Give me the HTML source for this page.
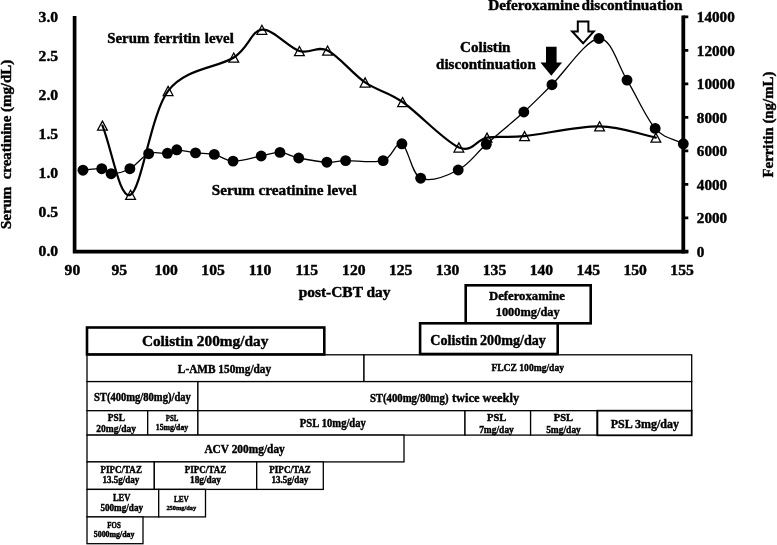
<!DOCTYPE html>
<html lang="en"><head><meta charset="utf-8"><title>Clinical course</title>
<style>
html,body{margin:0;padding:0;background:#fff;}
body{width:777px;height:545px;overflow:hidden;}
svg{display:block;}
svg text{font-family:"Liberation Serif","Times New Roman",Times,serif;font-weight:bold;fill:#000;stroke:#000;stroke-width:0.42px;}
</style></head><body>
<svg width="777" height="545" viewBox="0 0 777 545">
<rect x="0" y="0" width="777" height="545" fill="#fff"/>
<path d="M74.6,16.1 V251.7 H688.3" fill="none" stroke="#000" stroke-width="3.7" stroke-linejoin="miter"/>
<path d="M683.3,15.5 V253.4" fill="none" stroke="#000" stroke-width="3.8"/>
<path d="M683.3,16.90 H688.3 M683.3,50.40 H688.3 M683.3,83.90 H688.3 M683.3,117.40 H688.3 M683.3,150.90 H688.3 M683.3,184.40 H688.3 M683.3,217.90 H688.3 M683.3,251.40 H688.3" fill="none" stroke="#000" stroke-width="2.7"/>
<path d="M102.44,121.10 L107.34,130.20 H97.54 Z" fill="#fff" stroke="#000" stroke-width="1.25" stroke-linejoin="miter"/>
<path d="M130.58,190.30 L135.48,199.40 H125.68 Z" fill="#fff" stroke="#000" stroke-width="1.25" stroke-linejoin="miter"/>
<path d="M168.10,86.40 L173.00,95.50 H163.20 Z" fill="#fff" stroke="#000" stroke-width="1.25" stroke-linejoin="miter"/>
<path d="M233.76,53.00 L238.66,62.10 H228.86 Z" fill="#fff" stroke="#000" stroke-width="1.25" stroke-linejoin="miter"/>
<path d="M261.90,25.20 L266.80,34.30 H257.00 Z" fill="#fff" stroke="#000" stroke-width="1.25" stroke-linejoin="miter"/>
<path d="M299.42,46.50 L304.32,55.60 H294.52 Z" fill="#fff" stroke="#000" stroke-width="1.25" stroke-linejoin="miter"/>
<path d="M327.56,46.00 L332.46,55.10 H322.66 Z" fill="#fff" stroke="#000" stroke-width="1.25" stroke-linejoin="miter"/>
<path d="M365.08,77.90 L369.98,87.00 H360.18 Z" fill="#fff" stroke="#000" stroke-width="1.25" stroke-linejoin="miter"/>
<path d="M402.60,97.50 L407.50,106.60 H397.70 Z" fill="#fff" stroke="#000" stroke-width="1.25" stroke-linejoin="miter"/>
<path d="M458.88,142.90 L463.78,152.00 H453.98 Z" fill="#fff" stroke="#000" stroke-width="1.25" stroke-linejoin="miter"/>
<path d="M487.02,133.10 L491.92,142.20 H482.12 Z" fill="#fff" stroke="#000" stroke-width="1.25" stroke-linejoin="miter"/>
<path d="M524.54,131.60 L529.44,140.70 H519.64 Z" fill="#fff" stroke="#000" stroke-width="1.25" stroke-linejoin="miter"/>
<path d="M599.58,121.80 L604.48,130.90 H594.68 Z" fill="#fff" stroke="#000" stroke-width="1.25" stroke-linejoin="miter"/>
<path d="M655.86,133.10 L660.76,142.20 H650.96 Z" fill="#fff" stroke="#000" stroke-width="1.25" stroke-linejoin="miter"/>
<path d="M102.44,125.60 C111.82,148.67 119.64,200.58 130.58,194.80 C141.52,189.02 150.90,113.78 168.10,90.90 C185.30,68.02 218.13,67.70 233.76,57.50 C249.39,47.30 250.96,30.78 261.90,29.70 C272.84,28.62 288.48,47.53 299.42,51.00 C310.36,54.47 316.62,45.27 327.56,50.50 C338.50,55.73 352.57,73.82 365.08,82.40 C377.59,90.98 386.97,91.17 402.60,102.00 C418.23,112.83 444.81,141.47 458.88,147.40 C472.61,153.19 476.08,139.48 487.02,137.60 C497.96,135.72 505.86,137.98 524.54,136.10 C543.30,134.22 577.69,126.05 599.58,126.30 C621.47,126.55 637.10,133.83 655.86,137.60" fill="none" stroke="#000" stroke-width="2.2" stroke-linecap="round"/>
<path d="M82.98,170.20 C89.23,169.70 97.05,168.12 101.74,168.70 C106.43,169.28 106.43,173.70 111.12,173.70 C115.81,173.70 123.63,172.03 129.88,168.70 C136.13,165.37 142.39,156.27 148.64,153.70 C154.89,151.13 162.71,153.95 167.40,153.30 C172.09,152.65 172.09,149.87 176.78,149.80 C181.47,149.73 189.29,152.13 195.54,152.90 C201.79,153.67 208.05,153.03 214.30,154.40 C220.55,155.77 225.24,160.83 233.06,161.10 C240.88,161.37 253.38,157.45 261.20,156.00 C269.02,154.55 273.71,152.07 279.96,152.40 C286.21,152.73 290.90,156.37 298.72,158.00 C306.54,159.63 319.04,161.77 326.86,162.20 C334.68,162.63 336.24,160.87 345.62,160.60 C355.00,160.33 373.76,163.40 383.14,160.60 C392.52,157.80 395.65,140.87 401.90,143.80 C408.15,146.73 411.28,173.83 420.66,178.20 C430.04,182.57 447.24,175.65 458.18,170.00 C469.12,164.35 475.38,153.97 486.32,144.30 C497.26,134.63 512.90,121.93 523.84,112.00 C534.78,102.07 539.47,96.95 551.98,84.70 C564.49,72.45 586.37,39.27 598.88,38.50 C611.39,37.73 617.64,65.12 627.02,80.10 C636.40,95.08 645.78,117.78 655.16,128.40 C664.54,139.02 673.92,138.67 683.30,143.80" fill="none" stroke="#000" stroke-width="1.3"/>
<circle cx="82.98" cy="170.20" r="5.45" fill="#000"/>
<circle cx="101.74" cy="168.70" r="5.45" fill="#000"/>
<circle cx="111.12" cy="173.70" r="5.45" fill="#000"/>
<circle cx="129.88" cy="168.70" r="5.45" fill="#000"/>
<circle cx="148.64" cy="153.70" r="5.45" fill="#000"/>
<circle cx="167.40" cy="153.30" r="5.45" fill="#000"/>
<circle cx="176.78" cy="149.80" r="5.45" fill="#000"/>
<circle cx="195.54" cy="152.90" r="5.45" fill="#000"/>
<circle cx="214.30" cy="154.40" r="5.45" fill="#000"/>
<circle cx="233.06" cy="161.10" r="5.45" fill="#000"/>
<circle cx="261.20" cy="156.00" r="5.45" fill="#000"/>
<circle cx="279.96" cy="152.40" r="5.45" fill="#000"/>
<circle cx="298.72" cy="158.00" r="5.45" fill="#000"/>
<circle cx="326.86" cy="162.20" r="5.45" fill="#000"/>
<circle cx="345.62" cy="160.60" r="5.45" fill="#000"/>
<circle cx="383.14" cy="160.60" r="5.45" fill="#000"/>
<circle cx="401.90" cy="143.80" r="5.45" fill="#000"/>
<circle cx="420.66" cy="178.20" r="5.45" fill="#000"/>
<circle cx="458.18" cy="170.00" r="5.45" fill="#000"/>
<circle cx="486.32" cy="144.30" r="5.45" fill="#000"/>
<circle cx="523.84" cy="112.00" r="5.45" fill="#000"/>
<circle cx="551.98" cy="84.70" r="5.45" fill="#000"/>
<circle cx="598.88" cy="38.50" r="5.45" fill="#000"/>
<circle cx="627.02" cy="80.10" r="5.45" fill="#000"/>
<circle cx="655.16" cy="128.40" r="5.45" fill="#000"/>
<circle cx="683.30" cy="143.80" r="5.45" fill="#000"/>
<text x="38.60" y="21.50" font-size="14.6" textLength="19.53" lengthAdjust="spacingAndGlyphs" xml:space="preserve">3.0</text>
<text x="38.60" y="60.50" font-size="14.6" textLength="19.53" lengthAdjust="spacingAndGlyphs" xml:space="preserve">2.5</text>
<text x="38.60" y="99.50" font-size="14.6" textLength="19.53" lengthAdjust="spacingAndGlyphs" xml:space="preserve">2.0</text>
<text x="38.60" y="138.50" font-size="14.6" textLength="19.53" lengthAdjust="spacingAndGlyphs" xml:space="preserve">1.5</text>
<text x="38.60" y="177.50" font-size="14.6" textLength="19.53" lengthAdjust="spacingAndGlyphs" xml:space="preserve">1.0</text>
<text x="38.60" y="216.50" font-size="14.6" textLength="19.53" lengthAdjust="spacingAndGlyphs" xml:space="preserve">0.5</text>
<text x="38.60" y="255.50" font-size="14.6" textLength="19.53" lengthAdjust="spacingAndGlyphs" xml:space="preserve">0.0</text>
<text x="64.59" y="274.60" font-size="14.6" textLength="15.62" lengthAdjust="spacingAndGlyphs" xml:space="preserve">90</text>
<text x="111.49" y="274.60" font-size="14.6" textLength="15.62" lengthAdjust="spacingAndGlyphs" xml:space="preserve">95</text>
<text x="154.48" y="274.60" font-size="14.6" textLength="23.43" lengthAdjust="spacingAndGlyphs" xml:space="preserve">100</text>
<text x="201.38" y="274.60" font-size="14.6" textLength="23.43" lengthAdjust="spacingAndGlyphs" xml:space="preserve">105</text>
<text x="248.71" y="274.60" font-size="14.6" textLength="22.57" lengthAdjust="spacingAndGlyphs" xml:space="preserve">110</text>
<text x="295.61" y="274.60" font-size="14.6" textLength="22.57" lengthAdjust="spacingAndGlyphs" xml:space="preserve">115</text>
<text x="342.08" y="274.60" font-size="14.6" textLength="23.43" lengthAdjust="spacingAndGlyphs" xml:space="preserve">120</text>
<text x="388.98" y="274.60" font-size="14.6" textLength="23.43" lengthAdjust="spacingAndGlyphs" xml:space="preserve">125</text>
<text x="435.88" y="274.60" font-size="14.6" textLength="23.43" lengthAdjust="spacingAndGlyphs" xml:space="preserve">130</text>
<text x="482.78" y="274.60" font-size="14.6" textLength="23.43" lengthAdjust="spacingAndGlyphs" xml:space="preserve">135</text>
<text x="529.68" y="274.60" font-size="14.6" textLength="23.43" lengthAdjust="spacingAndGlyphs" xml:space="preserve">140</text>
<text x="576.58" y="274.60" font-size="14.6" textLength="23.43" lengthAdjust="spacingAndGlyphs" xml:space="preserve">145</text>
<text x="623.48" y="274.60" font-size="14.6" textLength="23.43" lengthAdjust="spacingAndGlyphs" xml:space="preserve">150</text>
<text x="670.38" y="274.60" font-size="14.6" textLength="23.43" lengthAdjust="spacingAndGlyphs" xml:space="preserve">155</text>
<text x="696.80" y="22.00" font-size="14.6" textLength="37.96" lengthAdjust="spacingAndGlyphs" xml:space="preserve">14000</text>
<text x="696.80" y="55.50" font-size="14.6" textLength="37.96" lengthAdjust="spacingAndGlyphs" xml:space="preserve">12000</text>
<text x="696.80" y="89.00" font-size="14.6" textLength="37.96" lengthAdjust="spacingAndGlyphs" xml:space="preserve">10000</text>
<text x="696.80" y="122.50" font-size="14.6" textLength="30.37" lengthAdjust="spacingAndGlyphs" xml:space="preserve">8000</text>
<text x="696.80" y="156.00" font-size="14.6" textLength="30.37" lengthAdjust="spacingAndGlyphs" xml:space="preserve">6000</text>
<text x="696.80" y="189.50" font-size="14.6" textLength="30.37" lengthAdjust="spacingAndGlyphs" xml:space="preserve">4000</text>
<text x="696.80" y="223.00" font-size="14.6" textLength="30.37" lengthAdjust="spacingAndGlyphs" xml:space="preserve">2000</text>
<text x="696.80" y="256.50" font-size="14.6" textLength="7.59" lengthAdjust="spacingAndGlyphs" xml:space="preserve">0</text>
<text x="298.70" y="297.40" font-size="14.6" textLength="91.81" lengthAdjust="spacingAndGlyphs" xml:space="preserve">post-CBT day</text>
<text x="0.00" y="0.00" font-size="14.6" textLength="169.22" lengthAdjust="spacingAndGlyphs" transform="translate(10.5 229.0) rotate(-90)" xml:space="preserve">Serum  creatinine (mg/dL)</text>
<text x="0.00" y="0.00" font-size="14.6" textLength="105.83" lengthAdjust="spacingAndGlyphs" transform="translate(772.5 177.5) rotate(-90)" xml:space="preserve">Ferritin (ng/mL)</text>
<text x="107.20" y="43.40" font-size="15" textLength="126.61" lengthAdjust="spacingAndGlyphs" word-spacing="0.90" xml:space="preserve">Serum ferritin level</text>
<text x="211.70" y="195.10" font-size="15" textLength="145.09" lengthAdjust="spacingAndGlyphs" xml:space="preserve">Serum creatinine level</text>
<text x="488.20" y="10.30" font-size="15.3" textLength="194.27" lengthAdjust="spacingAndGlyphs" word-spacing="-1.84" xml:space="preserve">Deferoxamine discontinuation</text>
<text x="460.05" y="52.00" font-size="15" textLength="50.48" lengthAdjust="spacingAndGlyphs" xml:space="preserve">Colistin</text>
<text x="436.00" y="68.90" font-size="15" textLength="99.78" lengthAdjust="spacingAndGlyphs" xml:space="preserve">discontinuation</text>
<path d="M546,46.8 H556.6 V62.5 H562.1 L551.3,75.8 L540.4,62.5 H546 Z" fill="#000"/>
<path d="M577.8,21.4 H588.4 V31.4 H593.8 L583.1,43.3 L572.2,31.4 H577.8 Z" fill="#fff" stroke="#000" stroke-width="2.0" stroke-linejoin="miter"/>
<rect x="87.00" y="354.80" width="277.00" height="26.80" fill="#fff" stroke="#000" stroke-width="1.3"/>
<rect x="364.00" y="354.80" width="327.70" height="26.80" fill="#fff" stroke="#000" stroke-width="1.3"/>
<rect x="87.00" y="381.60" width="110.90" height="29.10" fill="#fff" stroke="#000" stroke-width="1.3"/>
<rect x="197.90" y="381.60" width="493.80" height="29.10" fill="#fff" stroke="#000" stroke-width="1.3"/>
<rect x="87.00" y="410.70" width="60.70" height="24.40" fill="#fff" stroke="#000" stroke-width="1.3"/>
<rect x="147.70" y="410.70" width="50.20" height="24.40" fill="#fff" stroke="#000" stroke-width="1.3"/>
<rect x="197.90" y="410.70" width="267.10" height="24.40" fill="#fff" stroke="#000" stroke-width="1.3"/>
<rect x="465.00" y="410.70" width="65.60" height="24.40" fill="#fff" stroke="#000" stroke-width="1.3"/>
<rect x="530.60" y="410.70" width="66.60" height="24.40" fill="#fff" stroke="#000" stroke-width="1.3"/>
<rect x="87.00" y="435.10" width="317.00" height="26.80" fill="#fff" stroke="#000" stroke-width="1.3"/>
<rect x="87.00" y="461.90" width="67.30" height="27.50" fill="#fff" stroke="#000" stroke-width="1.3"/>
<rect x="154.30" y="461.90" width="102.40" height="27.50" fill="#fff" stroke="#000" stroke-width="1.3"/>
<rect x="256.70" y="461.90" width="66.60" height="27.50" fill="#fff" stroke="#000" stroke-width="1.3"/>
<rect x="87.00" y="489.40" width="71.70" height="27.50" fill="#fff" stroke="#000" stroke-width="1.3"/>
<rect x="158.70" y="489.40" width="46.80" height="27.50" fill="#fff" stroke="#000" stroke-width="1.3"/>
<rect x="87.00" y="516.90" width="56.00" height="26.80" fill="#fff" stroke="#000" stroke-width="1.3"/>
<rect x="597.40" y="410.70" width="94.30" height="24.60" fill="#fff" stroke="#000" stroke-width="1.8"/>
<rect x="87.00" y="327.50" width="237.30" height="26.90" fill="#fff" stroke="#000" stroke-width="2.6"/>
<rect x="465.70" y="285.30" width="125.00" height="38.00" fill="#fff" stroke="#000" stroke-width="2.6"/>
<rect x="420.10" y="323.30" width="137.60" height="30.70" fill="#fff" stroke="#000" stroke-width="2.6"/>
<text x="141.90" y="346.31" font-size="15.5" textLength="126.42" lengthAdjust="spacingAndGlyphs" xml:space="preserve">Colistin 200mg/day</text>
<text x="177.85" y="372.82" font-size="12.5" textLength="93.30" lengthAdjust="spacingAndGlyphs" xml:space="preserve">L-AMB 150mg/day</text>
<text x="491.40" y="371.36" font-size="10.5" textLength="72.59" lengthAdjust="spacingAndGlyphs" xml:space="preserve">FLCZ 100mg/day</text>
<text x="94.00" y="400.60" font-size="11.5" textLength="96.82" lengthAdjust="spacingAndGlyphs" xml:space="preserve">ST(400mg/80mg)/day</text>
<text x="369.90" y="401.62" font-size="11.7" textLength="78.58" lengthAdjust="spacingAndGlyphs" xml:space="preserve">ST(400mg/80mg)</text>
<text x="451.90" y="401.62" font-size="13" textLength="67.29" lengthAdjust="spacingAndGlyphs" xml:space="preserve">twice weekly</text>
<text x="107.75" y="420.83" font-size="11" textLength="17.29" lengthAdjust="spacingAndGlyphs" xml:space="preserve">PSL</text>
<text x="96.30" y="431.80" font-size="11" textLength="39.82" lengthAdjust="spacingAndGlyphs" xml:space="preserve">20mg/day</text>
<text x="165.70" y="421.11" font-size="8.5" textLength="12.59" lengthAdjust="spacingAndGlyphs" xml:space="preserve">PSL</text>
<text x="155.80" y="430.00" font-size="8.5" textLength="32.42" lengthAdjust="spacingAndGlyphs" xml:space="preserve">15mg/day</text>
<text x="299.80" y="427.30" font-size="11.5" textLength="66.01" lengthAdjust="spacingAndGlyphs" word-spacing="0.58" xml:space="preserve">PSL 10mg/day</text>
<text x="487.07" y="420.76" font-size="10.5" xml:space="preserve">PSL</text>
<text x="479.15" y="432.50" font-size="10.5" textLength="34.72" lengthAdjust="spacingAndGlyphs" xml:space="preserve">7mg/day</text>
<text x="553.77" y="420.76" font-size="10.5" xml:space="preserve">PSL</text>
<text x="546.15" y="432.50" font-size="10.5" textLength="34.72" lengthAdjust="spacingAndGlyphs" xml:space="preserve">5mg/day</text>
<text x="610.70" y="427.89" font-size="13" textLength="68.21" lengthAdjust="spacingAndGlyphs" xml:space="preserve">PSL 3mg/day</text>
<text x="204.40" y="452.62" font-size="12.5" textLength="80.41" lengthAdjust="spacingAndGlyphs" xml:space="preserve">ACV 200mg/day</text>
<text x="100.45" y="473.00" font-size="10" textLength="41.48" lengthAdjust="spacingAndGlyphs" xml:space="preserve">PIPC/TAZ</text>
<text x="102.50" y="483.00" font-size="10" textLength="36.79" lengthAdjust="spacingAndGlyphs" xml:space="preserve">13.5g/day</text>
<text x="184.75" y="473.00" font-size="10" textLength="41.48" lengthAdjust="spacingAndGlyphs" xml:space="preserve">PIPC/TAZ</text>
<text x="190.00" y="483.00" font-size="10" textLength="30.99" lengthAdjust="spacingAndGlyphs" xml:space="preserve">18g/day</text>
<text x="269.35" y="473.00" font-size="10" textLength="41.48" lengthAdjust="spacingAndGlyphs" xml:space="preserve">PIPC/TAZ</text>
<text x="271.40" y="483.00" font-size="10" textLength="36.79" lengthAdjust="spacingAndGlyphs" xml:space="preserve">13.5g/day</text>
<text x="112.95" y="500.90" font-size="10" textLength="17.51" lengthAdjust="spacingAndGlyphs" xml:space="preserve">LEV</text>
<text x="100.40" y="511.00" font-size="10" textLength="42.62" lengthAdjust="spacingAndGlyphs" xml:space="preserve">500mg/day</text>
<text x="173.90" y="501.81" font-size="8.5" textLength="14.81" lengthAdjust="spacingAndGlyphs" xml:space="preserve">LEV</text>
<text x="166.40" y="510.00" font-size="7" textLength="29.81" lengthAdjust="spacingAndGlyphs" xml:space="preserve">250mg/day</text>
<text x="107.25" y="527.64" font-size="8" textLength="13.50" lengthAdjust="spacingAndGlyphs" xml:space="preserve">FOS</text>
<text x="93.75" y="537.00" font-size="8" textLength="40.72" lengthAdjust="spacingAndGlyphs" xml:space="preserve">5000mg/day</text>
<text x="489.05" y="300.45" font-size="13.5" textLength="75.89" lengthAdjust="spacingAndGlyphs" xml:space="preserve">Deferoxamine</text>
<text x="495.70" y="316.15" font-size="13.5" textLength="64.03" lengthAdjust="spacingAndGlyphs" xml:space="preserve">1000mg/day</text>
<text x="430.35" y="344.55" font-size="15" textLength="115.51" lengthAdjust="spacingAndGlyphs" word-spacing="-0.90" xml:space="preserve">Colistin 200mg/day</text>
</svg>
</body></html>
